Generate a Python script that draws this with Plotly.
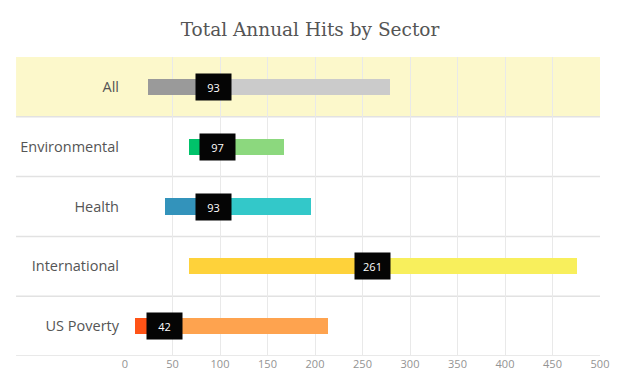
import plotly.graph_objects as go

categories = ["All", "Environmental", "Health", "International", "US Poverty"]
min_vals = [24, 67, 42, 67, 10]
median_vals = [93, 97, 93, 261, 42]
max_vals = [279, 167, 196, 476, 214]
dark_colors = ["#9a9a9a", "#00c26a", "#3393bb", "#fed23a", "#ff5316"]
light_colors = ["#cbcbcb", "#8cd87e", "#33c8c9", "#f8ef5c", "#fea34f"]
x_ticks = [0, 50, 100, 150, 200, 250, 300, 350, 400, 450, 500]

ypos = list(range(len(categories)))

fig = go.Figure()
fig.add_trace(go.Bar(
    y=ypos, x=[m - a for m, a in zip(median_vals, min_vals)], base=min_vals,
    orientation="h", marker=dict(color=dark_colors, line=dict(width=0)),
    width=0.27, hoverinfo="skip", showlegend=False))
fig.add_trace(go.Bar(
    y=ypos, x=[b - m for b, m in zip(max_vals, median_vals)], base=median_vals,
    orientation="h", marker=dict(color=light_colors, line=dict(width=0)),
    width=0.27, hoverinfo="skip", showlegend=False))

for i, m in enumerate(median_vals):
    fig.add_annotation(x=m, y=i, text=str(m), showarrow=False,
                       font=dict(family="Open Sans", size=11, color="white"),
                       bgcolor="#050505", width=31, height=22, borderpad=2,
                       xanchor="center", yanchor="middle")

L, R = 108, 43
W = 635 - L - R
x0p = -111 / W
shapes = [dict(type="rect", xref="paper", yref="y", x0=x0p, x1=1, y0=-0.5, y1=0.5,
               fillcolor="#fcf8cb", line=dict(width=0), layer="below")]
for k in range(len(categories)):
    shapes.append(dict(type="line", xref="paper", yref="y", x0=x0p, x1=1,
                       y0=k + 0.5, y1=k + 0.5,
                       line=dict(color="#e2e2e2", width=1.5), layer="below"))

fig.update_layout(
    width=635, height=389,
    margin=dict(l=L, r=R, t=49, b=41),
    paper_bgcolor="white", plot_bgcolor="rgba(0,0,0,0)",
    barmode="overlay", bargap=0,
    shapes=shapes,
    title=dict(text="Total Annual Hits by Sector", x=(310 - 8) / 635, xanchor="center",
               y=1 - 22 / 389, yanchor="middle",
               font=dict(family="DejaVu Serif", size=18.5, color="#555555")),
    xaxis=dict(range=[0, 500], tickvals=x_ticks, ticktext=[str(v) for v in x_ticks],
               showgrid=True, gridcolor="#e9e9e9", gridwidth=1, zeroline=False,
               showline=False, ticks="", tickfont=dict(family="Open Sans", size=11, color="#939393")),
    yaxis=dict(range=[4.5, -0.5], tickvals=ypos, ticktext=categories,
               showgrid=False, zeroline=False, showline=False, ticks="",
               ticklabelstandoff=5,
               tickfont=dict(family="Open Sans", size=14.5, color="#555555")),
)
fig.write_html("out.html")
